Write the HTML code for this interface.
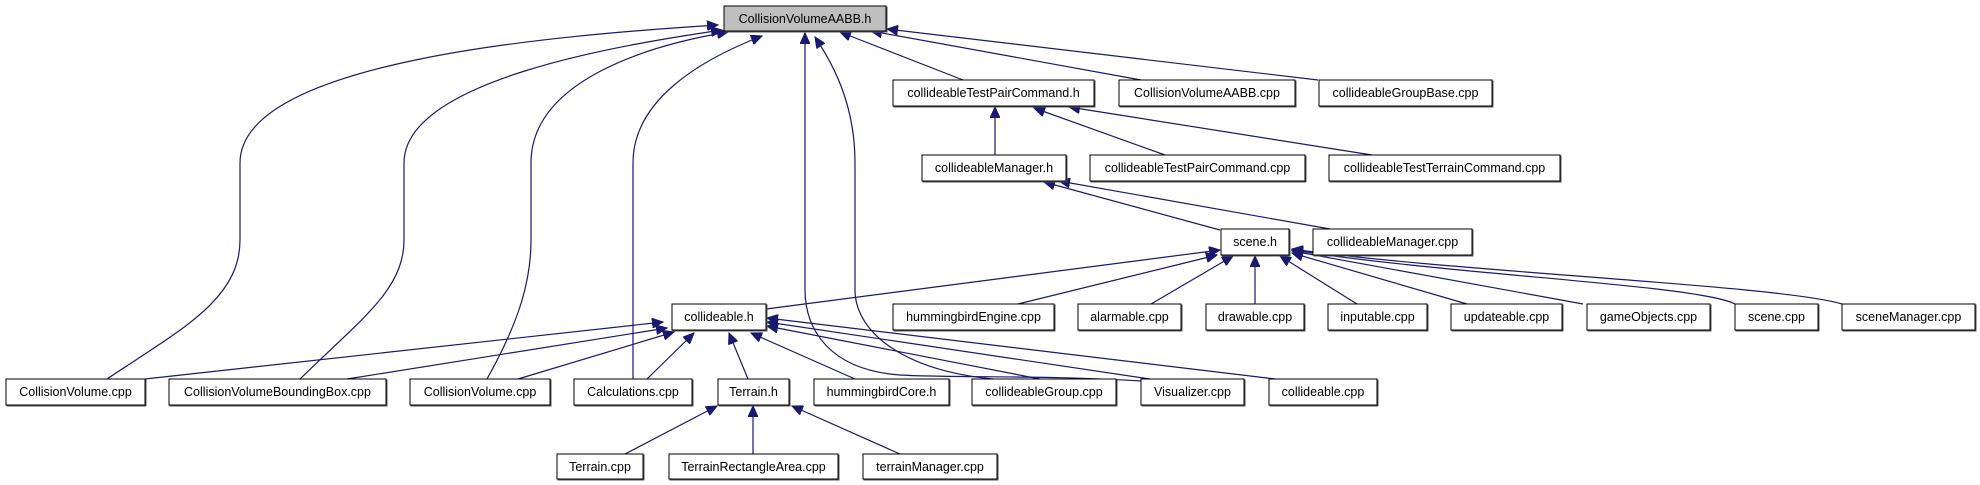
<!DOCTYPE html>
<html><head><meta charset="utf-8"><style>
html,body{margin:0;padding:0;background:#fff;}
svg{display:block;}
text{font-family:"Liberation Sans",Arial,sans-serif;font-size:12.5px;fill:#000;}
.b{fill:#fff;stroke:#000;stroke-width:1;}
.r{fill:#bfbfbf;stroke:#000;stroke-width:1;}
.e{fill:none;stroke:#191970;stroke-width:1.2;}
</style></head><body>
<svg width="1980" height="485" viewBox="0 0 1980 485" xmlns="http://www.w3.org/2000/svg">
<defs>
<marker id="a" markerUnits="userSpaceOnUse" markerWidth="12" markerHeight="10" refX="11" refY="5" orient="auto">
<path d="M0,0 L11,5 L0,10 z" fill="#191970" stroke="#191970"/>
</marker>
<filter id="s" x="-5%" y="-5%" width="115%" height="130%"><feDropShadow dx="1" dy="1" stdDeviation="0" flood-color="#555"/></filter>
</defs>
<g marker-end="url(#a)">
<path class="e" d="M107,379 C180,330 240,300 240,240 L240,163 C240,60 560,35 718,25"/>
<path class="e" d="M300,379 C360,320 404,290 404,240 L404,163 C404,80 620,45 722,30"/>
<path class="e" d="M487,379 C520,320 531,280 531,240 L531,163 C531,80 650,45 728,32"/>
<path class="e" d="M633,379 L633,163 C633,100 700,60 762,36"/>
<path class="e" d="M1141,381 C1050,375 950,378 900,375 C830,370 805,330 805,290 L805,33"/>
<path class="e" d="M993,379 C900,370 855,330 855,290 L855,163 C855,100 830,60 815,37"/>
<path class="e" d="M963,80 L840,32"/>
<path class="e" d="M1141,80 L871,31"/>
<path class="e" d="M1318,80 L887,29"/>
<path class="e" d="M995,155 L995,107"/>
<path class="e" d="M1165,155 L1034,108"/>
<path class="e" d="M1372,155 L1069,107"/>
<path class="e" d="M1220,230 L1044,182"/>
<path class="e" d="M1330,229 L1059,181"/>
<path class="e" d="M766,309 L1220,250"/>
<path class="e" d="M1018,304 L1217,255"/>
<path class="e" d="M1151,304 L1233,256"/>
<path class="e" d="M1255,304 L1255,256"/>
<path class="e" d="M1357,304 L1280,256"/>
<path class="e" d="M1467,304 L1292,253"/>
<path class="e" d="M1583,304 L1292,251"/>
<path class="e" d="M1735,304 C1700,285 1450,275 1292,250"/>
<path class="e" d="M1842,304 C1780,285 1450,272 1292,249"/>
<path class="e" d="M145,379 L663,322"/>
<path class="e" d="M347,379 L667,328"/>
<path class="e" d="M518,379 L674,332"/>
<path class="e" d="M647,379 L694,333"/>
<path class="e" d="M748,379 L729,333"/>
<path class="e" d="M855,379 L751,333"/>
<path class="e" d="M1040,379 L767,326"/>
<path class="e" d="M1150,379 L767,322"/>
<path class="e" d="M1275,379 L767,318"/>
<path class="e" d="M625,454 L717,406"/>
<path class="e" d="M753,454 L753,406"/>
<path class="e" d="M900,454 L792,406"/>
</g>
<g filter="url(#s)">
<rect class="r" x="724" y="6" width="162" height="25"/>
<rect class="b" x="893" y="80" width="201" height="26"/>
<rect class="b" x="1119" y="80" width="176" height="26"/>
<rect class="b" x="1319" y="80" width="173" height="26"/>
<rect class="b" x="922" y="155" width="144" height="26"/>
<rect class="b" x="1090" y="155" width="215" height="26"/>
<rect class="b" x="1329" y="155" width="231" height="26"/>
<rect class="b" x="1221" y="229" width="68" height="26"/>
<rect class="b" x="1313" y="229" width="159" height="26"/>
<rect class="b" x="672" y="304" width="94" height="26"/>
<rect class="b" x="893" y="304" width="161" height="26"/>
<rect class="b" x="1078" y="304" width="103" height="26"/>
<rect class="b" x="1206" y="304" width="98" height="26"/>
<rect class="b" x="1328" y="304" width="99" height="26"/>
<rect class="b" x="1451" y="304" width="111" height="26"/>
<rect class="b" x="1587" y="304" width="123" height="26"/>
<rect class="b" x="1735" y="304" width="83" height="26"/>
<rect class="b" x="1842" y="304" width="133" height="26"/>
<rect class="b" x="6" y="379" width="139" height="26"/>
<rect class="b" x="169" y="379" width="217" height="26"/>
<rect class="b" x="410" y="379" width="140" height="26"/>
<rect class="b" x="574" y="379" width="118" height="26"/>
<rect class="b" x="718" y="379" width="71" height="26"/>
<rect class="b" x="814" y="379" width="135" height="26"/>
<rect class="b" x="972" y="379" width="144" height="26"/>
<rect class="b" x="1141" y="379" width="103" height="26"/>
<rect class="b" x="1269" y="379" width="108" height="26"/>
<rect class="b" x="557" y="454" width="86" height="25"/>
<rect class="b" x="669" y="454" width="169" height="25"/>
<rect class="b" x="863" y="454" width="134" height="25"/>
</g>
<g text-anchor="middle">
<text x="805" y="23">CollisionVolumeAABB.h</text>
<text x="993.5" y="97">collideableTestPairCommand.h</text>
<text x="1207" y="97">CollisionVolumeAABB.cpp</text>
<text x="1405.5" y="97">collideableGroupBase.cpp</text>
<text x="994" y="172">collideableManager.h</text>
<text x="1197.5" y="172">collideableTestPairCommand.cpp</text>
<text x="1444.5" y="172">collideableTestTerrainCommand.cpp</text>
<text x="1255" y="246">scene.h</text>
<text x="1392.5" y="246">collideableManager.cpp</text>
<text x="719" y="321">collideable.h</text>
<text x="973.5" y="321">hummingbirdEngine.cpp</text>
<text x="1129.5" y="321">alarmable.cpp</text>
<text x="1255" y="321">drawable.cpp</text>
<text x="1377.5" y="321">inputable.cpp</text>
<text x="1506.5" y="321">updateable.cpp</text>
<text x="1648.5" y="321">gameObjects.cpp</text>
<text x="1776.5" y="321">scene.cpp</text>
<text x="1908.5" y="321">sceneManager.cpp</text>
<text x="75.5" y="396">CollisionVolume.cpp</text>
<text x="277.5" y="396">CollisionVolumeBoundingBox.cpp</text>
<text x="480" y="396">CollisionVolume.cpp</text>
<text x="633" y="396">Calculations.cpp</text>
<text x="753.5" y="396">Terrain.h</text>
<text x="881.5" y="396">hummingbirdCore.h</text>
<text x="1044" y="396">collideableGroup.cpp</text>
<text x="1192.5" y="396">Visualizer.cpp</text>
<text x="1323" y="396">collideable.cpp</text>
<text x="600" y="471">Terrain.cpp</text>
<text x="753.5" y="471">TerrainRectangleArea.cpp</text>
<text x="930" y="471">terrainManager.cpp</text>
</g>
</svg>
</body></html>
